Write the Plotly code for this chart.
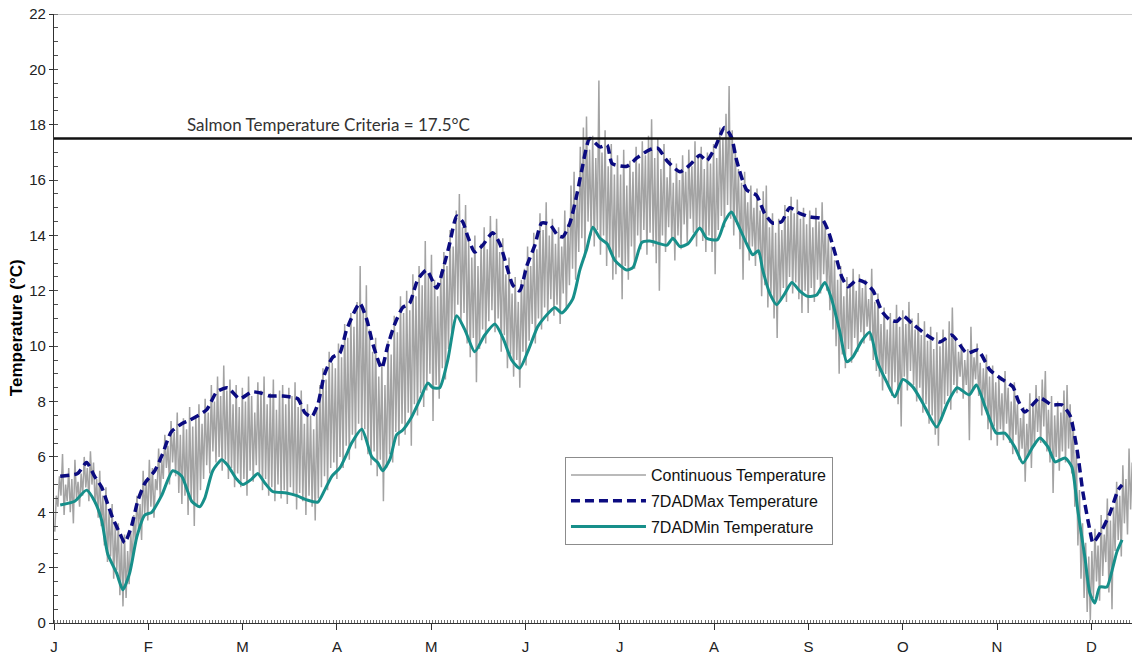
import plotly.graph_objects as go

# ---------------- data ----------------
MONTH_LABELS = ["J", "F", "M", "A", "M", "J", "J", "A", "S", "O", "N", "D"]
DAYS_PER_TICK = 365 / 12
CRITERIA = 17.5

# daily maxima / minima of the continuous record, month by month
HI_JAN = [4.6, 5.3, 6.1, 5.0, 5.6, 5.2, 5.9, 5.1, 5.4, 6.0, 5.6, 6.2, 5.8, 5.2, 5.5, 4.6, 4.9, 4.0, 4.3, 3.5, 3.6, 3.0, 3.2, 2.6, 3.3, 3.9, 4.6, 4.3, 5.5, 5.2, 5.9]
LO_JAN = [3.3, 4.2, 4.6, 3.9, 4.4, 4.0, 3.6, 4.5, 4.2, 4.6, 4.9, 4.4, 5.0, 4.3, 3.8, 3.5, 2.8, 2.2, 2.4, 1.6, 1.9, 1.0, 0.6, 0.9, 1.4, 2.2, 2.9, 3.4, 3.0, 3.9, 3.7]
HI_FEB = [5.6, 5.2, 6.3, 5.9, 6.8, 6.4, 7.3, 6.9, 7.6, 6.8, 7.4, 7.0, 7.8, 7.1, 7.5, 7.9, 7.2, 8.1, 7.6, 8.6, 8.0, 8.9, 8.2, 9.3, 8.4, 8.8, 7.9, 8.6]
LO_FEB = [4.2, 3.8, 4.8, 4.5, 5.2, 5.6, 5.0, 5.8, 5.3, 4.7, 4.3, 4.6, 3.9, 4.4, 3.5, 4.3, 4.8, 5.2, 5.7, 5.4, 6.2, 5.8, 6.0, 5.5, 5.9, 5.2, 5.6, 4.9]
HI_MAR = [7.8, 8.5, 8.0, 8.9, 8.2, 7.6, 8.7, 8.4, 8.9, 7.9, 8.3, 8.8, 7.7, 8.4, 8.6, 7.9, 8.5, 8.2, 8.7, 7.8, 8.4, 7.2, 7.9, 7.5, 7.0, 7.8, 8.6, 9.2, 8.8, 9.8, 9.4]
LO_MAR = [5.4, 4.9, 5.2, 4.6, 5.5, 5.1, 5.7, 5.3, 4.8, 5.2, 4.6, 4.9, 4.4, 5.0, 4.5, 4.8, 4.3, 4.9, 4.6, 4.1, 4.7, 4.4, 3.9, 4.6, 4.2, 3.7, 4.5, 4.9, 5.3, 4.8, 5.6]
HI_APR = [9.2, 10.1, 9.6, 10.8, 10.3, 11.2, 10.7, 11.6, 12.9, 11.4, 12.2, 10.6, 9.8, 10.3, 8.9, 9.4, 8.6, 10.2, 9.7, 11.1, 10.5, 11.8, 11.2, 12.0, 11.3, 12.6, 11.8, 12.9, 12.2, 13.8]
LO_APR = [5.8, 5.2, 6.0, 5.6, 6.4, 5.9, 6.8, 6.3, 7.2, 6.6, 7.0, 6.1, 5.7, 6.2, 5.3, 5.9, 4.4, 5.6, 6.1, 5.8, 6.9, 6.4, 7.2, 6.8, 7.6, 6.4, 7.9, 7.5, 8.3, 7.8]
HI_MAY = [12.6, 13.3, 12.4, 11.8, 12.7, 13.4, 12.9, 14.2, 13.6, 14.9, 15.5, 14.3, 15.1, 13.8, 13.2, 14.0, 12.9, 13.7, 14.3, 13.5, 14.7, 14.0, 14.6, 13.4, 13.9, 12.6, 13.2, 11.9, 12.5, 11.6, 12.4]
LO_MAY = [8.4, 9.0, 7.3, 8.6, 8.1, 9.2, 8.8, 9.9, 10.4, 11.0, 11.5, 10.8, 11.2, 10.1, 9.6, 10.3, 8.7, 9.9, 10.6, 10.1, 10.9, 11.3, 10.5, 11.0, 9.8, 10.4, 9.2, 9.7, 8.9, 9.5, 8.5]
HI_JUN = [12.8, 13.6, 12.9, 14.1, 13.5, 14.8, 14.2, 15.2, 14.0, 14.6, 13.7, 14.3, 13.6, 14.9, 14.4, 15.8, 16.3, 15.6, 17.2, 17.9, 18.3, 17.1, 17.6, 16.8, 19.6, 17.0, 17.8, 16.5, 17.3, 16.2]
LO_JUN = [9.8, 9.3, 10.2, 10.8, 10.1, 11.0, 10.6, 11.4, 10.9, 11.7, 11.1, 11.5, 10.8, 11.9, 11.3, 12.2, 12.8, 12.4, 13.4, 13.9, 13.2, 14.5, 14.0, 13.6, 14.2, 13.3, 14.0, 12.9, 13.5, 12.4]
HI_JUL = [16.9, 16.2, 17.1, 15.8, 16.7, 16.3, 17.2, 16.6, 17.4, 16.9, 17.6, 18.2, 16.8, 17.5, 16.4, 17.3, 16.1, 16.8, 15.9, 16.6, 16.0, 16.9, 16.3, 17.1, 16.5, 17.4, 16.8, 17.2, 16.4, 17.0, 16.6]
LO_JUL = [12.6, 13.2, 11.7, 12.9, 12.4, 13.6, 12.8, 14.0, 13.5, 14.2, 13.3, 14.1, 13.6, 13.0, 12.0, 14.0, 13.4, 14.3, 13.8, 13.1, 14.0, 13.5, 14.4, 13.7, 14.6, 14.1, 13.6, 14.3, 13.8, 13.4, 14.0]
HI_AUG = [17.3, 16.8, 17.9, 17.5, 18.4, 19.4, 17.8, 17.1, 16.4, 15.9, 16.3, 15.2, 15.8, 15.0, 15.7, 14.9, 15.6, 15.8, 14.3, 14.8, 14.1, 14.6, 14.2, 15.1, 14.7, 15.4, 14.8, 15.3, 14.6, 15.0, 14.4]
LO_AUG = [13.4, 12.6, 14.2, 14.7, 14.3, 15.1, 14.6, 14.0, 14.4, 13.5, 12.4, 13.8, 13.1, 13.6, 12.9, 13.3, 11.8, 12.2, 11.4, 11.9, 11.0, 10.3, 11.7, 12.1, 11.6, 12.5, 11.9, 12.3, 11.7, 11.2, 12.0]
HI_SEP = [14.9, 14.3, 15.0, 14.5, 15.2, 14.4, 14.0, 13.6, 13.1, 12.4, 12.9, 11.8, 12.5, 12.2, 12.8, 12.0, 12.6, 12.1, 12.4, 11.7, 12.8, 11.6, 11.9, 10.8, 11.4, 10.6, 11.2, 10.9, 11.5, 10.7]
LO_SEP = [11.2, 12.1, 11.6, 12.4, 11.9, 12.6, 12.0, 11.3, 10.6, 10.0, 9.0, 9.7, 9.2, 9.9, 9.4, 10.3, 9.8, 10.5, 10.1, 10.7, 10.2, 9.5, 9.1, 8.9, 8.4, 9.0, 8.6, 8.2, 8.7, 7.9]
HI_OCT = [11.3, 10.8, 11.6, 11.0, 10.6, 11.2, 10.4, 10.9, 10.2, 10.7, 9.9, 10.5, 10.0, 10.6, 10.3, 10.9, 11.4, 10.2, 9.8, 10.1, 9.5, 9.9, 10.7, 9.6, 10.1, 9.4, 9.2, 9.7, 8.9, 9.3, 8.7]
LO_OCT = [7.1, 8.9, 8.4, 9.1, 8.6, 8.0, 8.5, 7.6, 7.9, 7.2, 7.5, 6.8, 6.4, 7.3, 7.9, 8.2, 7.7, 8.6, 8.3, 8.9, 8.1, 8.6, 6.6, 8.4, 8.8, 8.2, 7.5, 7.9, 7.0, 6.6, 7.1]
HI_NOV = [8.9, 8.3, 9.1, 8.5, 8.0, 8.7, 7.9, 7.4, 7.8, 7.2, 8.3, 7.9, 8.6, 8.2, 8.8, 9.1, 7.7, 8.2, 7.5, 8.0, 7.6, 8.4, 8.6, 7.9, 7.3, 6.2, 4.8, 3.6, 2.9, 2.4]
LO_NOV = [6.4, 7.0, 6.6, 7.2, 6.5, 6.1, 6.8, 5.9, 6.3, 5.1, 6.0, 5.6, 6.4, 6.9, 6.5, 7.1, 6.2, 5.8, 4.7, 6.0, 5.5, 6.2, 5.8, 6.3, 5.4, 4.2, 2.8, 1.6, 0.9, 0.4]
HI_DEC = [2.6, 3.4, 2.8, 3.9, 3.2, 4.5, 3.7, 4.2, 5.1, 4.6, 5.7, 5.2, 6.3, 5.8]
LO_DEC = [0.1, 0.9, 1.5, 0.8, 1.7, 2.2, 1.1, 0.5, 2.6, 3.0, 2.4, 3.6, 3.2, 4.1]

# 7-day average of daily maximum (day of record, value)
MAX7_DAY = [2, 7.6, 10.5, 13.1, 15.4, 17, 18.9, 21.2, 22.8, 25, 27, 29.3, 32.5, 35, 37.8, 41.2, 43.8, 49.2, 52.5, 56, 59.9,
            63.8, 67, 69.6, 73.8, 78.6, 80.9, 83.1, 85.1, 87.3, 89.9, 92.2, 94.4, 98.6, 100.9, 102.8, 105.7, 107.6, 109.9,
            112.5, 114.7, 117.3, 120.2, 123.4, 126, 127.6, 129.9, 131.8, 133.5, 135.7, 138.3, 141.5, 143.8, 146, 148, 150.2,
            152.5, 155.1, 157.3, 159.9, 162.5, 164.1, 166.4, 168.7, 170.3, 172.8, 176.1, 178.4, 180, 184.8, 188, 192.2,
            194.8, 197.7, 201.9, 205.1, 208.3, 210.5, 213.1, 216.3, 218.5, 220.2, 223.4, 226.6, 229.2, 231.8, 234.7, 237.3,
            240.5, 243.8, 247.7, 249.6, 251.9, 254.1, 256.1, 259, 261.6, 264.2, 267.1, 269.6, 271.9, 273.8, 277, 281.5,
            285.7, 289.6, 294.4, 298, 301.9, 306.1, 309.3, 310.9, 313.1, 318, 321.8, 325.1, 327.7, 330, 331.9, 334.1,
            335.1, 338, 340.6, 343.2, 344.5]
MAX7_VAL = [5.3, 5.4, 5.8, 5.3, 4.9, 4.4, 3.8, 3.25, 2.9, 3.5, 4.4, 5.05, 5.5, 6.1, 6.9, 7.2, 7.33, 7.7, 8.35, 8.5, 8.1,
            8.35, 8.3, 8.2, 8.2, 8.1, 7.6, 7.45, 7.9, 9.0, 9.6, 9.75, 10.6, 11.55, 10.95, 10.1, 9.2, 10.0, 10.8,
            11.4, 11.55, 12.4, 12.75, 12.1, 13.0, 13.7, 14.7, 14.5, 13.95, 13.4, 13.65, 14.1, 13.7, 12.9, 12.2, 12.0,
            12.9, 13.65, 14.45, 14.4, 14.0, 13.95, 14.45, 15.5, 16.4, 17.5, 17.2, 17.27, 16.6, 16.5, 16.8, 17.1,
            17.15, 16.7, 16.3, 16.55, 16.9, 16.7, 17.15, 17.9, 17.55, 16.7, 15.65, 15.45, 14.8, 14.45, 14.5, 15.0,
            14.8, 14.67, 14.6, 14.2, 13.37, 12.5, 12.15, 12.4, 12.3, 12.0, 11.25, 10.95, 10.9, 11.1, 10.8, 10.4,
            10.15, 10.4, 9.75, 9.86, 9.14, 8.78, 8.53, 8.06, 7.62, 8.13, 7.88, 7.88, 7.5, 6.25, 4.7, 3.36,
            2.9, 3.36, 3.97, 4.8, 4.99]

# 7-day average of daily minimum (day of record, value)
MIN7_DAY = [2, 6.7, 10.5, 13.1, 15.4, 17.3, 20.2, 22.2, 24.4, 26.7, 29.3, 31.5, 34.7, 38.3, 41.2, 44.4, 47, 48.6, 51.2,
            54.1, 56, 58.9, 60.9, 63.8, 65.7, 68, 70.5, 75, 78.3, 81.5, 85.1, 87.3, 89.6, 92.2, 94.4, 96, 99.3, 102.5,
            104.4, 106, 108.3, 110.5, 112.5, 115.4, 118, 120.6, 122.2, 124.4, 127, 129.9, 132.5, 135.7, 138.9, 142.2,
            144.8, 147.6, 150.2, 152.8, 156, 158.3, 161.5, 163.8, 167.3, 169.6, 171.8, 173.8, 176.1, 178.4, 180.9,
            184.8, 186.8, 189.6, 192.2, 197.7, 199.6, 201.9, 204.5, 208.3, 210.5, 214, 216.3, 218.5, 220.2, 223.4,
            225.4, 227.2, 228.6, 230.9, 233.1, 235.7, 238, 240.5, 243.1, 246, 248.6, 250.9, 253.5, 255.7, 257.6,
            260.6, 263.1, 265.7, 268.6, 271.2, 273.8, 277, 280.2, 284.7, 288.2, 291.3, 295.2, 297.5, 300.7, 303.9,
            306.7, 309.9, 312.5, 315.7, 318, 320.6, 322.9, 326.1, 328.3, 330.2, 332.5, 334.1, 335.7, 337.3, 339.6,
            341.5, 342.8, 344.5]
MIN7_VAL = [4.26, 4.4, 4.8, 4.4, 3.7, 2.5, 1.8, 1.2, 1.8, 3.1, 3.9, 4.0, 4.6, 5.5, 5.3, 4.4, 4.2, 4.5, 5.5,
            5.9, 5.7, 5.2, 5.0, 5.2, 5.4, 5.06, 4.75, 4.7, 4.6, 4.45, 4.37, 4.8, 5.3, 5.6, 6.1, 6.5, 7.0, 6.0,
            5.8, 5.5, 5.9, 6.8, 6.97, 7.45, 8.06, 8.67, 8.5, 8.5, 9.5, 11.1, 10.6, 9.8, 10.4, 10.8,
            10.3, 9.5, 9.2, 9.8, 10.7, 11.05, 11.4, 11.2, 11.7, 12.75, 13.5, 14.3, 13.9, 13.7, 13.1,
            12.75, 12.85, 13.75, 13.8, 13.65, 13.9, 13.6, 13.7, 14.27, 13.9, 13.85, 14.5, 14.85, 14.5, 13.7,
            13.3, 13.45, 12.75, 11.9, 11.5, 11.9, 12.3, 12.0, 11.8, 11.85, 12.3, 11.67, 10.5, 9.44, 9.6,
            10.2, 10.5, 9.4, 8.7, 8.17, 8.8, 8.53, 7.95, 7.08, 7.95, 8.5, 8.24, 8.6, 7.7, 6.86,
            6.86, 6.36, 5.78, 6.36, 6.68, 6.36, 5.82, 5.96, 5.64, 4.08, 2.38, 1.08, 0.72, 1.3, 1.3,
            2.0, 2.56, 3.0]

# ---------------- build the continuous trace ----------------
daily_hi = HI_JAN + HI_FEB + HI_MAR + HI_APR + HI_MAY + HI_JUN + HI_JUL + HI_AUG + HI_SEP + HI_OCT + HI_NOV + HI_DEC
daily_lo = LO_JAN + LO_FEB + LO_MAR + LO_APR + LO_MAY + LO_JUN + LO_JUL + LO_AUG + LO_SEP + LO_OCT + LO_NOV + LO_DEC
cont_x, cont_y = [], []
for i, (lo, hi) in enumerate(zip(daily_lo, daily_hi)):
    cont_x += [i + 0.25, i + 0.75]
    cont_y += [lo, hi]

FONT = "Liberation Sans, Arial, sans-serif"

fig = go.Figure()
fig.add_trace(go.Scatter(x=cont_x, y=cont_y, mode="lines", name="Continuous Temperature",
                         line=dict(color="#a3a3a3", width=1.5), legendgroup="a"))
fig.add_trace(go.Scatter(x=MAX7_DAY, y=MAX7_VAL, mode="lines", name="7DADMax Temperature",
                         line=dict(color="#0b0b80", width=3.5, dash="9px,5px", shape="spline", smoothing=0.6),
                         legendgroup="b"))
fig.add_trace(go.Scatter(x=MIN7_DAY, y=MIN7_VAL, mode="lines", name="7DADMin Temperature",
                         line=dict(color="#178f8a", width=3, shape="spline", smoothing=0.6),
                         legendgroup="c"))

x_end = 347.7
fig.add_shape(type="line", xref="x", yref="y", x0=0, x1=x_end, y0=CRITERIA, y1=CRITERIA,
              line=dict(color="#111111", width=2.5))
fig.add_shape(type="line", xref="paper", yref="y", x0=0, x1=1, y0=22, y1=22,
              line=dict(color="#9a9a9a", width=1.2))

fig.add_annotation(x=42.2, y=CRITERIA, xref="x", yref="y", xanchor="left", yanchor="bottom", yshift=2,
                   text="Salmon Temperature Criteria = 17.5°C", showarrow=False,
                   font=dict(family="Lato, Carlito, sans-serif", size=17, color="#333333"))
fig.add_annotation(x=0, y=0.485, xref="paper", yref="paper", xshift=-49, textangle=-90,
                   text="<b>Temperature (°C)</b>", showarrow=False,
                   font=dict(family=FONT, size=17, color="#000000"))

fig.update_layout(
    width=1134, height=662,
    margin=dict(l=54, r=2, t=14, b=39, autoexpand=False),
    paper_bgcolor="white", plot_bgcolor="white",
    showlegend=True,
    legend=dict(x=0.474, y=0.2726, xanchor="left", yanchor="top",
                bordercolor="#8c8c8c", borderwidth=1, bgcolor="white",
                font=dict(family=FONT, size=16, color="#111111"),
                itemwidth=75, tracegroupgap=2),
    xaxis=dict(range=[0, x_end], tickmode="array", automargin=False,
               tickvals=[i * DAYS_PER_TICK for i in range(12)], ticktext=MONTH_LABELS,
               showgrid=False, zeroline=False, showline=True, linecolor="#303030", linewidth=1.2,
               ticks="outside", ticklen=6, tickcolor="#303030", ticklabelstandoff=4,
               minor=dict(ticks="inside", ticklen=3, tick0=0, dtick=1, tickcolor="#707070", showgrid=False),
               tickfont=dict(family=FONT, size=15, color="#222222")),
    yaxis=dict(range=[0, 22], dtick=2, tick0=0, ticklabeloverflow="allow", automargin=False,
               showgrid=False, zeroline=False, showline=True, linecolor="#303030", linewidth=1.2,
               ticks="outside", ticklen=4, tickcolor="#303030",
               minor=dict(ticks="inside", ticklen=4, dtick=0.5, tickcolor="#505050", showgrid=False),
               tickfont=dict(family=FONT, size=15, color="#222222")),
)

# remove the default page margin so the figure fills the window exactly
fig.write_html("out.html", config={"displayModeBar": False},
               post_script="document.body.style.margin='0';")
